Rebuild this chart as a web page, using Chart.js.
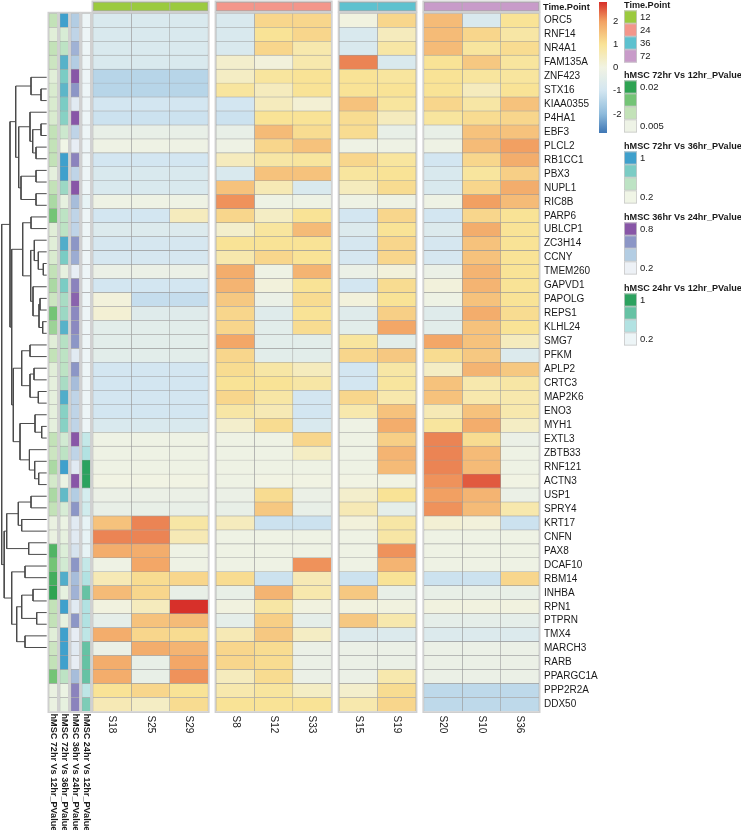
<!DOCTYPE html>
<html>
<head>
<meta charset="utf-8">
<script src="https://cdn.jsdelivr.net/npm/chart.js@4.4.1/dist/chart.umd.min.js"></script>
<style>
  html, body { margin: 0; padding: 0; background: #fff; }
  #wrap { width: 741px; height: 830px; }
</style>
</head>
<body>
<div id="wrap"><canvas id="heat" width="741" height="830"></canvas></div>
<script>
// ---- data ----
const genes = ['ORC5','RNF14','NR4A1','FAM135A','ZNF423','STX16','KIAA0355','P4HA1','EBF3','PLCL2',
  'RB1CC1','PBX3','NUPL1','RIC8B','PARP6','UBLCP1','ZC3H14','CCNY','TMEM260','GAPVD1',
  'PAPOLG','REPS1','KLHL24','SMG7','PFKM','APLP2','CRTC3','MAP2K6','ENO3','MYH1',
  'EXTL3','ZBTB33','RNF121','ACTN3','USP1','SPRY4','KRT17','CNFN','PAX8','DCAF10',
  'RBM14','INHBA','RPN1','PTPRN','TMX4','MARCH3','RARB','PPARGC1A','PPP2R2A','DDX50'];

const samples = ['S18','S25','S29','S8','S12','S33','S15','S19','S20','S10','S36'];
const sampleTime = ['12','12','12','24','24','24','36','36','72','72','72'];
const timeLevels = ['12','24','36','72'];
const timeColors = ['#9bca3e','#f3968b','#5dc1cf','#c89bc9'];

// z-scored expression, one row per gene, columns in sample order
const expression = [
  [-0.8,-0.8,-0.8, -0.8,1.2,1.2, 0.05,1.2, 1.6,-0.8,1.0],
  [-0.8,-0.8,-0.8, -0.8,1.0,1.2, -0.8,0.5, 1.6,1.2,0.8],
  [-0.8,-0.8,-0.8, -0.8,1.2,0.7, -0.8,0.8, 1.6,0.9,1.1],
  [-0.8,-0.8,-0.8, 0.3,0.1,0.7, 2.2,-0.8, 1.0,1.4,0.9],
  [-1.4,-1.4,-1.4, 0.4,0.9,1.0, 1.0,0.9, 1.0,0.9,0.9],
  [-1.4,-1.4,-1.4, 0.9,0.5,1.0, 1.0,1.0, 1.0,0.5,1.0],
  [-1.0,-1.0,-1.0, -1.0,0.5,0.2, 1.5,0.9, 1.2,0.8,1.5],
  [-1.1,-1.1,-1.1, -1.1,1.0,1.0, 1.1,0.5, 0.9,1.1,1.2],
  [-0.3,-0.3,-0.3, -0.3,1.6,1.1, 1.1,-0.3, -0.3,1.5,1.5],
  [-0.1,-0.1,-0.1, -0.1,1.2,1.5, -0.1,-0.1, -0.1,1.6,2.0],
  [-1.0,-1.0,-1.0, 0.5,0.8,0.9, 1.2,0.9, -1.0,1.2,1.8],
  [-0.8,-0.8,-0.8, -0.8,1.5,1.5, 0.9,1.0, -0.8,0.9,1.3],
  [-0.8,-0.8,-0.8, 1.5,0.6,-0.8, 0.5,1.1, -0.8,1.2,1.8],
  [-0.1,-0.1,-0.1, 2.1,-0.1,-0.1, -0.1,-0.1, -0.1,2.0,1.6],
  [-1.0,-1.0,0.5, 1.2,0.4,1.0, -1.0,1.2, -1.0,1.2,1.0],
  [-0.7,-0.7,-0.7, 0.3,0.9,1.6, -0.7,1.0, -0.7,1.8,1.0],
  [-0.9,-0.9,-0.9, 1.0,1.0,1.0, -0.9,1.2, -0.9,1.5,1.0],
  [-0.9,-0.9,-0.9, 0.7,1.2,1.0, -0.9,1.2, -0.9,1.5,1.0],
  [-0.2,-0.2,-0.2, 1.8,-0.1,1.7, -0.2,0.1, -0.2,1.7,1.0],
  [-1.0,-1.0,-1.0, 1.7,0.1,1.0, -1.0,1.1, 0.1,1.7,1.0],
  [0.1,-1.2,-1.2, 1.4,-0.2,1.1, 0.1,1.0, -0.1,1.5,1.0],
  [0.2,-0.6,-0.6, 1.2,-0.6,1.0, -0.6,1.3, -0.6,1.8,1.1],
  [-0.5,-0.5,-0.5, 1.2,-0.5,1.1, -0.5,1.9, -0.5,1.5,1.0],
  [-0.5,-0.5,-0.5, 1.9,-0.5,-0.5, 0.9,-0.5, 1.9,1.5,0.5],
  [-0.5,-0.5,-0.5, 1.2,-0.5,-0.5, 1.2,1.4, 1.1,1.4,-0.7],
  [-1.0,-1.0,-1.0, 1.1,0.8,0.5, -1.0,0.8, 0.4,1.7,1.4],
  [-1.0,-1.0,-1.0, 1.0,1.0,0.8, -1.0,0.9, 1.5,0.7,0.8],
  [-1.0,-1.0,-1.0, 1.2,0.8,-1.0, 1.2,0.7, 1.5,0.7,0.7],
  [-1.0,-1.0,-1.0, 0.8,0.6,-1.0, 0.7,1.5, 0.6,1.5,0.7],
  [-0.8,-0.8,-0.8, 0.3,1.1,-0.8, -0.1,1.8, 0.9,1.8,0.4],
  [-0.1,-0.1,-0.1, -0.1,-0.1,1.2, -0.1,1.3, 2.2,1.1,-0.2],
  [-0.1,-0.1,-0.1, -0.1,-0.1,0.4, -0.1,1.7, 2.2,1.6,-0.1],
  [-0.1,-0.1,-0.1, -0.1,-0.1,-0.1, -0.1,1.6, 2.2,1.6,-0.1],
  [0,0,0, -0.1,0,0, 0,0, 2.1,2.5,0],
  [-0.2,-0.2,-0.2, -0.2,1.1,-0.2, 0.3,1.0, 2.0,1.7,-0.2],
  [-0.3,-0.3,-0.3, -0.3,1.4,-0.3, 0.6,-0.4, 2.1,1.6,0.7],
  [1.5,2.2,0.8, 0.5,-1.1,-1.1, 0.1,0.8, 0.2,0.1,-1.1],
  [2.2,2.2,0.6, -0.1,-0.1,-0.1, -0.1,0.8, -0.1,-0.1,-0.1],
  [1.8,1.8,-0.1, -0.1,-0.1,-0.1, -0.1,2.1, -0.1,-0.1,-0.1],
  [-0.1,1.9,-0.1, -0.1,-0.1,2.1, -0.1,1.7, -0.1,-0.1,-0.1],
  [0.6,1.1,1.2, 1.1,-1.1,0.6, -1.1,1.0, -1.1,-1.1,1.2],
  [1.6,1.2,-0.3, -0.3,1.7,0.7, 1.4,-0.3, -0.3,-0.3,-0.3],
  [0.05,0.5,2.9, 0.05,0.8,0.05, 0.05,0.05, 0.05,0.05,0.05],
  [-0.4,1.5,1.6, -0.4,1.3,-0.4, 1.4,0.7, -0.4,-0.4,-0.4],
  [1.8,1.2,1.1, 0.6,1.4,0.4, -0.7,-0.7, -0.7,-0.7,-0.7],
  [-0.2,1.8,1.7, 1.2,1.1,-0.2, -0.2,-0.2, -0.2,-0.2,-0.2],
  [1.8,-0.3,1.9, 1.2,1.1,-0.2, -0.2,-0.2, -0.2,-0.2,-0.2],
  [1.8,-0.3,2.1, 0.5,1.1,-0.2, -0.2,0.7, -0.2,-0.2,-0.2],
  [1.0,1.2,1.0, 0.7,0.9,0.4, 0.3,1.1, -1.3,-1.3,-1.3],
  [0.6,0.4,1.1, 1.0,1.0,1.0, 0.7,1.2, -1.3,-1.3,-1.3]
];

// row annotations (0 = lightest legend step, 3 = darkest)
const pv72v12 = [1,.3,1,.8,.3,.5,.5,.5,1,1, 1,.2,1,1.3,2,.3,.3,.5,1,1.3,
  .8,2,1.5,.3,1,.3,.2,.2,.2,.2, 1,.8,1.3,.6,1.3,1,.1,.1,2.5,2, 2.7,3,1,1,.3,.8,1,2,.1,.1];
const pv72v36 = [3,.5,1,2.6,2,2.5,2,1.8,.7,0, 3,3,1.5,.2,1,1,2.7,2,.2,2,
  1.3,1.5,2.6,1.1,1,1,1.3,2.7,1.8,1.8, .6,1,3,.1,2.4,.5,.1,.2,.4,.6, 2.7,.2,3,.2,3,3,3,1,.1,.2];
const pv36v24 = [1,.8,1.5,1,3,2,.2,3,.8,.1, 2.3,.8,3,1.3,.8,.8,2,1.6,.1,2.3,
  2.8,2.2,2.2,2,.2,2,1.3,.8,.8,.8, 3,.8,.2,3,1,2,.2,.2,.4,2, 1.3,1.5,.2,2,.1,.2,.1,1.3,2.3,2.3];
const pv24v12 = [0,0,0,0,0,0,0,0,0,0, 0,0,0,.1,0,0,0,0,0,0,
  0,0,0,0,0,0,0,0,0,0, .7,1,3,3,.4,.5,.1,.1,.1,.7, 1,2,1,1,.8,2,2,2,.8,1.7];

const annotNames = ['hMSC 72hr Vs 12hr_PValue','hMSC 72hr Vs 36hr_PValue','hMSC 36hr Vs 24hr_PValue','hMSC 24hr Vs 12hr_PValue'];
const annotPalettes = [
  ['#eef3e6','#c3e2b8','#74c476','#2ea352'],
  ['#f0f5e6','#bde3c4','#7bccc4','#3fa0cc'],
  ['#edf1f6','#b3cde3','#8c96c6','#8856a7'],
  ['#edf5f7','#b2e2e2','#66c2a4','#2ca25f']
];
const annotTicks = [['0.02','0.005'],['1','0.2'],['0.8','0.2'],['1','0.2']];
const colorTicks = [2, 1, 0, -1, -2];

// row dendrogram: leaf = row number (1-based), node = [left, right, height]
const clA = [1, [2, 3, 5.7], 15.7];
const clB = [4, [[5, 6, 5.7], [7, 8, 10.7], 14], 16.7];
const clC = [[9, 10, 10.7], [11, 12, 10.7], 25.7];
const clD = [13, 14, 15.7];
const clE = [[15, [16, [17, 18, 3.4], 8.4], 12.4], [19, [[20, 21, 6.7], [22, 23, 4], 7.7], 13.7], 16];
const clF = [[24, 25, 16.7], [[26, 27, 12.7], [28, 29, 8.4], 16.7], 25];
const clG = [[30, [31, 32, 5], 11.7], [33, [34, [35, 36, 8], 12], 17.3], 26.7];
const clH = [[[37, 38, 15.7], [39, 40, 25], 28.4], [41, 42, 18], 40];
const clI = [[43, 44, 21.7], [[[45, 46, 13.7], [47, 48, 10], 25], [49, 50, 21.7], 30], 35];
const dendrogram = [
  [ [clA, [clB, clC, 28], 31], [[clD, clE, 24], [clF, clG, 33.4], 35], 36.7 ],
  [clH, clI, 42.5],
  45
];

// ---- layout ----
const W = 741, H = 830;
const LEFT = 1, TOP = 13.3, RIGHT = 539, BOTTOM = 711.5;
const LEAF_X = 46.7;
const ANNOT_X0 = 49, ANNOT_W = 8.4, ANNOT_STEP = 11;
const HEAT_X0 = 93, GROUP_GAP = 8;
const FONT = "'Liberation Sans', Arial, Helvetica, sans-serif";

const groupOf = sampleTime.map(t => timeLevels.indexOf(t));
const nGroups = new Set(groupOf).size;
const CELL_W = (RIGHT - HEAT_X0 - GROUP_GAP * (nGroups - 1)) / samples.length;
const colStart = j => HEAT_X0 + j * CELL_W + groupOf[j] * GROUP_GAP;

// ---- colours ----
function hexRgb(h) { const n = parseInt(h.slice(1), 16); return [n >> 16 & 255, n >> 8 & 255, n & 255]; }
function mix(a, b, t) {
  const A = hexRgb(a), B = hexRgb(b);
  return 'rgb(' + A.map((v, i) => Math.round(v + (B[i] - v) * t)).join(',') + ')';
}
const heatStops = [[-2.8,'#3f77b5'],[-2,'#8ebbdb'],[-1,'#d3e6f1'],[0,'#f1f3e3'],[1,'#f9e396'],[2,'#f2a062'],[2.8,'#d7302a']];
function heatColor(v) {
  if (v <= heatStops[0][0]) return heatStops[0][1];
  for (let i = 1; i < heatStops.length; i++) {
    if (v <= heatStops[i][0]) {
      const [v0, c0] = heatStops[i - 1], [v1, c1] = heatStops[i];
      return mix(c0, c1, (v - v0) / (v1 - v0));
    }
  }
  return heatStops[heatStops.length - 1][1];
}
function rampColor(pal, v) {
  const i = Math.min(Math.floor(v), pal.length - 2);
  return mix(pal[i], pal[i + 1], v - i);
}

// ---- datasets ----
const datasets = [];
const annotValues = [pv72v12, pv72v36, pv36v24, pv24v12];
annotValues.forEach((vals, k) => {
  const x0 = ANNOT_X0 + k * ANNOT_STEP;
  datasets.push({
    type: 'bar', indexAxis: 'y', xAxisID: 'x', yAxisID: 'y', grouped: false,
    label: annotNames[k],
    data: vals.map(() => [x0, x0 + ANNOT_W]),
    backgroundColor: vals.map(v => rampColor(annotPalettes[k], v)),
    borderColor: '#9e9e9e', borderWidth: 0.55, borderSkipped: false,
    barPercentage: 1, categoryPercentage: 1
  });
});
samples.forEach((s, j) => {
  const x0 = colStart(j);
  datasets.push({
    type: 'bar', indexAxis: 'y', xAxisID: 'x', yAxisID: 'y', grouped: false,
    label: s,
    data: expression.map(() => [x0, x0 + CELL_W]),
    backgroundColor: expression.map(row => heatColor(row[j])),
    borderColor: '#9a9a9a', borderWidth: 0.55, borderSkipped: false,
    barPercentage: 1, categoryPercentage: 1
  });
});

// dendrogram segments from the tree
function walk(node) {
  if (typeof node === 'number') return { y: node - 1, h: 0 };
  const a = walk(node[0]), b = walk(node[1]), h = node[2];
  datasets.push({
    type: 'line', indexAxis: 'x', xAxisID: 'x', yAxisID: 'yd',
    data: [{x: LEAF_X - a.h, y: a.y}, {x: LEAF_X - h, y: a.y}, {x: LEAF_X - h, y: b.y}, {x: LEAF_X - b.h, y: b.y}],
    borderColor: '#4a4a4a', borderWidth: 1, pointRadius: 0, fill: false, tension: 0
  });
  return { y: (a.y + b.y) / 2, h };
}
walk(dendrogram);

// ---- extra drawing: labels, top annotation, legends ----
const extras = {
  id: 'extras',
  afterDraw(chart) {
    const ctx = chart.ctx, xs = chart.scales.x, ys = chart.scales.y;
    const top = chart.chartArea.top, bot = chart.chartArea.bottom;
    ctx.save();

    // group outlines (annotation columns + heatmap slices)
    ctx.strokeStyle = '#cfcfcf'; ctx.lineWidth = 1.5;
    for (let k = 0; k < annotValues.length; k++) {
      const x0 = xs.getPixelForValue(ANNOT_X0 + k * ANNOT_STEP), x1 = xs.getPixelForValue(ANNOT_X0 + k * ANNOT_STEP + ANNOT_W);
      ctx.strokeRect(x0 - 0.75, top - 0.75, x1 - x0 + 1.5, bot - top + 1.5);
    }
    for (let g = 0; g < nGroups; g++) {
      const cols = samples.map((s, j) => j).filter(j => groupOf[j] === g);
      const x0 = xs.getPixelForValue(colStart(cols[0]));
      const x1 = xs.getPixelForValue(colStart(cols[cols.length - 1]) + CELL_W);
      ctx.strokeStyle = '#cfcfcf'; ctx.lineWidth = 1.5;
      ctx.strokeRect(x0 - 0.75, top - 0.75, x1 - x0 + 1.5, bot - top + 1.5);
      // top Time.Point annotation
      cols.forEach(j => {
        const a = xs.getPixelForValue(colStart(j)), b = xs.getPixelForValue(colStart(j) + CELL_W);
        ctx.fillStyle = timeColors[g];
        ctx.fillRect(a, 2, b - a, 9);
        ctx.strokeStyle = '#a8a8a8'; ctx.lineWidth = 0.6;
        ctx.strokeRect(a + 0.3, 2.3, b - a - 0.6, 8.4);
      });
      ctx.strokeStyle = '#cfcfcf'; ctx.lineWidth = 1.5;
      ctx.strokeRect(x0 - 0.75, 1.25, x1 - x0 + 1.5, 10.5);
    }

    // gene labels
    ctx.fillStyle = '#1a1a1a';
    ctx.font = '10px ' + FONT;
    ctx.textAlign = 'left'; ctx.textBaseline = 'middle';
    genes.forEach((g, i) => ctx.fillText(g, xs.getPixelForValue(RIGHT) + 5, ys.getPixelForValue(i)));
    ctx.font = 'bold 9.2px ' + FONT;
    ctx.fillText('Time.Point', xs.getPixelForValue(RIGHT) + 4, 7);

    // column labels (rotated, reading downward)
    ctx.font = '10px ' + FONT;
    samples.forEach((s, j) => {
      const cx = xs.getPixelForValue(colStart(j) + CELL_W / 2);
      ctx.save(); ctx.translate(cx, bot + 4); ctx.rotate(Math.PI / 2);
      ctx.fillText(s, 0, 0); ctx.restore();
    });
    ctx.font = 'bold 9.1px ' + FONT;
    annotNames.forEach((n, k) => {
      const cx = xs.getPixelForValue(ANNOT_X0 + k * ANNOT_STEP + ANNOT_W / 2);
      ctx.save(); ctx.translate(cx, bot + 2); ctx.rotate(Math.PI / 2);
      ctx.fillText(n, 0, 0); ctx.restore();
    });

    // colour bar
    const cbX = 599, cbW = 8, cbTop = 2, cbBot = 133, vMax = 2.81;
    const grad = ctx.createLinearGradient(0, cbTop, 0, cbBot);
    for (let s = 0; s <= 40; s++) grad.addColorStop(s / 40, heatColor(vMax - s / 40 * 2 * vMax));
    ctx.fillStyle = grad; ctx.fillRect(cbX, cbTop, cbW, cbBot - cbTop);
    ctx.fillStyle = '#1a1a1a'; ctx.font = '9.5px ' + FONT;
    colorTicks.forEach(t => {
      const y = cbTop + (vMax - t) / (2 * vMax) * (cbBot - cbTop);
      ctx.fillText(String(t), cbX + cbW + 6, y);
    });

    // discrete legends
    const LX = 624, BOX = 13;
    function block(title, colors, labels, ty, labelAll) {
      ctx.fillStyle = '#1a1a1a'; ctx.font = 'bold 9.1px ' + FONT;
      ctx.fillText(title, LX, ty);
      colors.forEach((c, i) => {
        const y = ty + 5.5 + i * BOX;
        ctx.fillStyle = c; ctx.fillRect(LX, y, BOX, BOX);
        ctx.strokeStyle = '#c8c8c8'; ctx.lineWidth = 0.8; ctx.strokeRect(LX + 0.4, y + 0.4, BOX - 0.8, BOX - 0.8);
      });
      ctx.fillStyle = '#1a1a1a'; ctx.font = '9.5px ' + FONT;
      if (labelAll) labels.forEach((l, i) => ctx.fillText(l, LX + BOX + 3, ty + 5.5 + i * BOX + BOX / 2));
      else {
        ctx.fillText(labels[0], LX + BOX + 3, ty + 5.5 + BOX / 2);
        ctx.fillText(labels[1], LX + BOX + 3, ty + 5.5 + (colors.length - 1) * BOX + BOX / 2);
      }
    }
    block('Time.Point', timeColors, timeLevels, 5, true);
    annotNames.forEach((n, k) => block(n, annotPalettes[k].slice().reverse(), annotTicks[k], 75 + k * 71, false));

    ctx.restore();
  }
};

new Chart(document.getElementById('heat'), {
  type: 'bar',
  data: { labels: genes, datasets },
  options: {
    responsive: false,
    animation: false,
    indexAxis: 'y',
    layout: { padding: { left: LEFT, top: TOP, right: W - RIGHT, bottom: H - BOTTOM } },
    plugins: { legend: { display: false }, tooltip: { enabled: false } },
    scales: {
      x: { type: 'linear', min: LEFT, max: RIGHT, display: false },
      y: { type: 'category', display: false, offset: true },
      yd: { type: 'linear', axis: 'y', min: -0.5, max: genes.length - 0.5, reverse: true, display: false }
    }
  },
  plugins: [extras]
});
</script>
</body>
</html>
